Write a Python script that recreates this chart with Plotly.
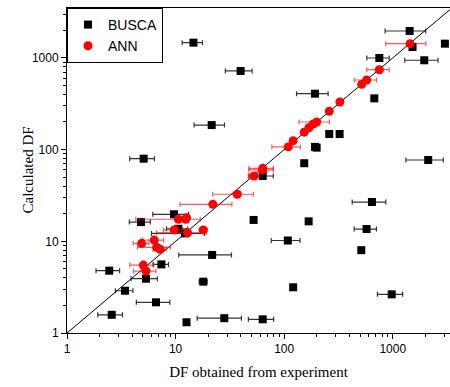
import plotly.graph_objects as go

# BUSCA (black squares): experimental DF, calculated DF, horizontal error
busca_x = [14.6, 39.7, 21.5, 5.08, 1430, 1520, 3020, 752, 1950, 192, 676, 260, 324, 199, 192, 153,
           2120, 63.4, 9.67, 4.80, 52.3, 10.6, 12.2, 21.7, 7.4, 2.45, 5.34, 18.0, 3.42, 6.6, 2.58,
           12.6, 28.1, 63.4, 643, 168, 574, 108, 513, 121, 977]
busca_y = [1466, 720, 185, 79.6, 1965, 1315, 1429, 997, 942, 407, 362, 148, 148, 105, 107, 71,
           77, 51.5, 19.7, 16.2, 17.1, 13.7, 12.2, 7.1, 5.6, 4.78, 3.91, 3.63, 2.89, 2.16, 1.58,
           1.31, 1.45, 1.41, 26.8, 16.5, 13.6, 10.2, 8.0, 3.15, 2.64]
busca_err = [3.1, 11, 6.7, 1.3, 580, 0, 0, 175, 660, 62, 0, 0, 0, 0, 0, 0,
             800, 16, 3.5, 1.05, 0, 2.35, 6.2, 11, 1.2, 0.6, 1.45, 1.5, 0.63, 2.25, 0.66,
             0, 12.3, 16.6, 220, 0, 133, 32, 0, 0, 255]

# ANN (red circles)
ann_x = [1440, 752, 575, 517, 326, 260, 199, 185, 169, 153, 121, 109, 63.4, 63.4, 52.7, 37, 22,
         10.6, 12.4, 12.6, 9.72, 12.9, 18.0, 4.87, 6.36, 6.7, 7.2, 5.04, 5.34]
ann_y = [1429, 743, 574, 515, 330, 262, 200, 190, 173, 155, 125, 107, 62.5, 60, 51.5, 32.6, 25.3,
         17.4, 17.4, 18.1, 13.3, 12.4, 13.3, 9.5, 10.3, 8.6, 8.2, 5.5, 4.74]
ann_err = [580, 175, 133, 0, 0, 0, 62, 0, 0, 0, 0, 32, 16, 16, 6, 15, 11,
           6.3, 0, 0, 2, 6.2, 1.5, 0.8, 1.4, 2.25, 1.0, 1.25, 1.25]

major_ticks = [1, 10, 100, 1000]
tick_labels = ["1", "10", "100", "1000"]
minor_ticks = [m * 10 ** d for d in range(4) for m in range(2, 10)]

fig = go.Figure()

# y = x reference line (spans whole plotting range, clipped)
fig.add_trace(go.Scatter(x=[1, 1e4], y=[1, 1e4], mode="lines",
                         line=dict(color="black", width=1), showlegend=False, hoverinfo="skip"))

fig.add_trace(go.Scatter(
    x=busca_x, y=busca_y, mode="markers", name="BUSCA",
    marker=dict(symbol="square", size=8, color="black"),
    error_x=dict(type="data", array=busca_err, visible=True, color="rgba(0,0,0,0.8)",
                 thickness=1.2, width=2.5)))

fig.add_trace(go.Scatter(
    x=ann_x, y=ann_y, mode="markers", name="ANN",
    marker=dict(symbol="circle", size=9, color="red"),
    error_x=dict(type="data", array=ann_err, visible=True, color="rgba(255,0,0,0.65)",
                 thickness=1.2, width=2.5)))

axis_common = dict(type="log", showgrid=False, zeroline=False, showline=True, linecolor="black",
                   linewidth=1, mirror=True, ticks="outside", ticklen=5, tickcolor="black",
                   tickvals=major_ticks, ticktext=tick_labels, automargin=False,
                   tickfont=dict(family="Liberation Sans, Arial", size=12, color="black"),
                   minor=dict(ticks="outside", ticklen=3, tickcolor="black", tickvals=minor_ticks))

fig.update_layout(
    width=450, height=387,
    margin=dict(l=67, r=0, t=8, b=54),
    paper_bgcolor="white", plot_bgcolor="white",
    xaxis=dict(range=[0, 3.527],
               title=dict(text="DF obtained from experiment", standoff=11,
                          font=dict(family="Liberation Serif, Times New Roman", size=15, color="black")),
               **axis_common),
    yaxis=dict(range=[0, 3.544], **axis_common),
    annotations=[dict(text="Calculated DF", textangle=-90, xref="paper", yref="paper",
                      x=0, y=0.5, xanchor="center", yanchor="middle", xshift=-40, showarrow=False,
                      font=dict(family="Liberation Serif, Times New Roman", size=15, color="black"))],
    legend=dict(x=0, y=1, xanchor="left", yanchor="top", bgcolor="white",
                bordercolor="black", borderwidth=1,
                font=dict(family="Liberation Sans, Arial", size=14, color="black"),
                tracegroupgap=0, itemwidth=30, entrywidth=80, entrywidthmode="pixels"),
    showlegend=True,
)

fig.write_html("out.html", config={"displayModeBar": False},
               post_script="document.body.style.margin='0';document.body.style.overflow='hidden';")
